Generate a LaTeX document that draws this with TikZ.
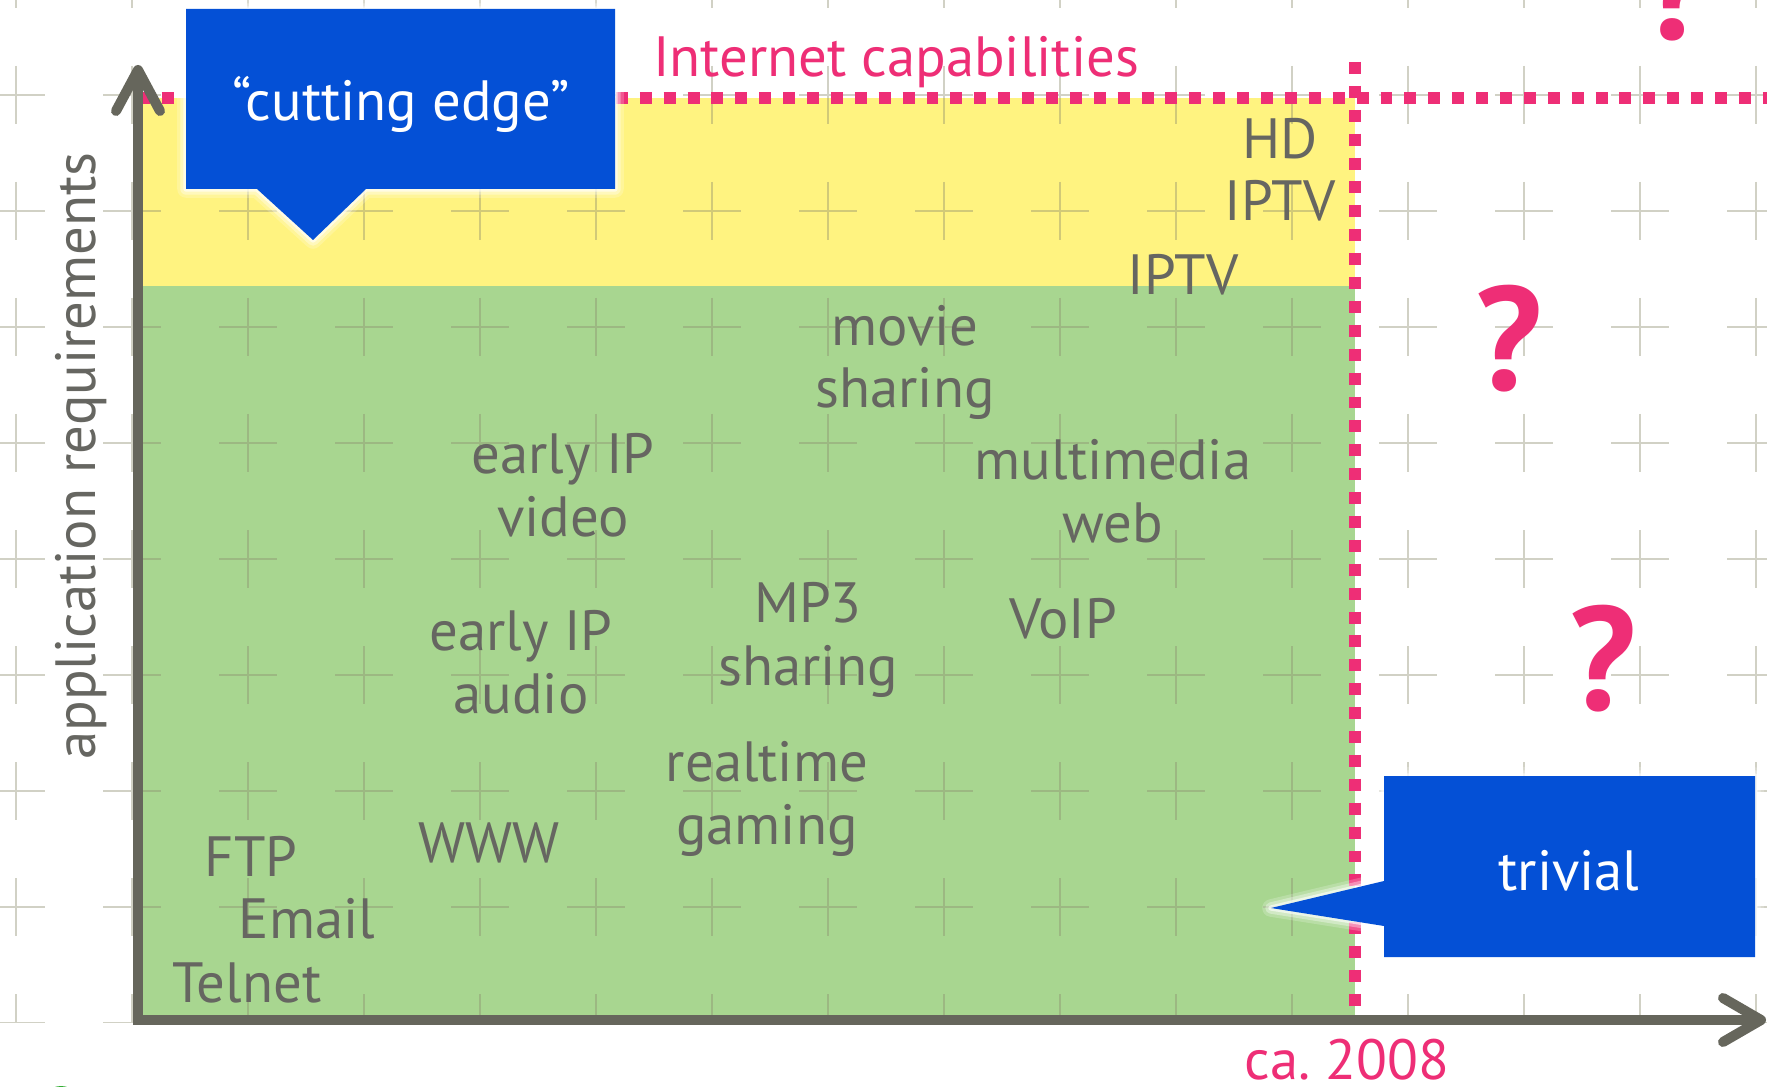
\documentclass[tikz,border=0pt]{standalone}
\usepackage{fontspec}
\setmainfont{PT Sans}
\frenchspacing
\definecolor{txtgray}{HTML}{666661}
\definecolor{axisc}{HTML}{66665C}
\definecolor{pinkc}{HTML}{EE2E76}
\definecolor{calblue}{HTML}{0450D6}
\definecolor{greenc}{HTML}{A8D690}
\definecolor{yellowc}{HTML}{FFF380}
\definecolor{crossc}{HTML}{8C8C6E}
\begin{document}
\begin{tikzpicture}[x=0.02cm,y=-0.02cm,
  lbl/.style={text=txtgray, font=\fontsize{32.3}{35.7}\selectfont, align=center, anchor=base, inner sep=0pt},
  pinklbl/.style={text=pinkc, font=\fontsize{32.3}{35.7}\selectfont, anchor=base, inner sep=0pt},
  wlbl/.style={text=white, font=\fontsize{32.3}{35.7}\selectfont, anchor=base, inner sep=0pt},
  qmark/.style={text=pinkc, font=\fontsize{84}{90}\selectfont\bfseries, anchor=base, inner sep=0pt},
  axisline/.style={draw=axisc, line width=5.7pt, line cap=round, line join=round},
  dotline/.style={draw=pinkc, line width=6.8pt, dash pattern=on 6.8pt off 6.8pt},
  cross/.style={draw=crossc, line width=1.1pt, opacity=0.4},
  glowA/.style={draw=white, line width=10pt, opacity=0.2, line join=round},
  glowB/.style={draw=white, line width=6.5pt, opacity=0.35, line join=round},
  glowC/.style={draw=white, line width=3pt, opacity=0.6, line join=round},
  calfill/.style={fill=calblue}
]
\useasboundingbox (0,0) rectangle (1767,1087);
\fill[white] (0,0) rectangle (1767,1087);

% regions
\fill[yellowc] (138,98) rectangle (1355,286);
\fill[greenc] (138,286) rectangle (1355,1020);

% grid crosses
\begin{scope}
\clip (0,0) rectangle (1767,1022);
\foreach \gx in {16,132,...,1756}
  \foreach \gy in {-21,95,...,1023}
    {\draw[cross] (\gx-29,\gy) -- (\gx+29,\gy) (\gx,\gy-29) -- (\gx,\gy+29);}
\end{scope}

% small green mark bottom left
\fill[green!60!black!80] (61,1093) ellipse [x radius=12, y radius=7];

% dotted capability lines
\coordinate (hdL) at (138,98);
\coordinate (hdR) at (1767,98);
\coordinate (vdT) at (1355,62);
\coordinate (vdB) at (1355,1012);
\draw[dotline] (hdL) -- (hdR);
\draw[dotline] (vdT) -- (vdB);

% axes
\coordinate (ytop) at (138,72);
\coordinate (orig) at (138,1020);
\coordinate (xend) at (1760,1020);
\draw[axisline, line cap=butt, line join=miter] (ytop) -- (orig) -- (xend);
\coordinate (ya1) at (116,111);
\coordinate (ya2) at (138,70);
\coordinate (ya3) at (160,111);
\draw[axisline] (ya1) -- (ya2) -- (ya3);
\coordinate (xa1) at (1723,998);
\coordinate (xa2) at (1761,1020);
\coordinate (xa3) at (1723,1042);
\draw[axisline] (xa1) -- (xa2) -- (xa3);

% axis labels
\node[pinklbl] (inet) at (896,77) {Internet capabilities};
\node[pinklbl] (year) at (1347,1079) {ca. 2008};
\node[text=txtgray, font=\fontsize{32.3}{35.7}\selectfont, rotate=90, inner sep=0pt] (yl) at (81,456) {application requirements};

% application labels (base = last line's baseline)
\node[lbl] (hd) at (1280,221) {HD\\IPTV};
\node[lbl] (iptv) at (1183,295) {IPTV};
\node[lbl] (movie) at (905,408) {movie\\sharing};
\node[lbl] (eipv) at (563,536) {early IP\\video};
\node[lbl] (mmw) at (1113,542) {multimedia\\web};
\node[lbl] (mp3) at (808,685) {MP3\\sharing};
\node[lbl] (voip) at (1063,638) {VoIP};
\node[lbl] (eipa) at (521,713) {early IP\\audio};
\node[lbl] (rtg) at (767,844) {realtime\\gaming};
\node[lbl] (www) at (489,862) {WWW};
\node[lbl] (ftp) at (251,876) {FTP};
\node[lbl] (email) at (307,938) {Email};
\node[lbl] (telnet) at (247,1002) {Telnet};

% question marks
\node[qmark] (q1) at (1509,391) {?};
\node[qmark] (q2) at (1603,710) {?};
\node[qmark] (q3) at (1677,40) {?};

% callout: cutting edge
\coordinate (c1) at (186,9);
\coordinate (c2) at (615,9);
\coordinate (c3) at (615,189);
\coordinate (c4) at (366,189);
\coordinate (c5) at (313,240);
\coordinate (c6) at (257,189);
\coordinate (c7) at (186,189);
\foreach \gs in {glowA,glowB,glowC}
  {\draw[\gs] (c1) -- (c2) -- (c3) -- (c4) -- (c5) -- (c6) -- (c7) -- cycle;}
\fill[calfill] (c1) -- (c2) -- (c3) -- (c4) -- (c5) -- (c6) -- (c7) -- cycle;
\node[wlbl] (cut) at (401,121) {“cutting edge”};

% callout: trivial
\coordinate (t1) at (1384,776);
\coordinate (t2) at (1755,776);
\coordinate (t3) at (1755,957);
\coordinate (t4) at (1384,957);
\coordinate (t5) at (1384,926);
\coordinate (t6) at (1271,908);
\coordinate (t7) at (1384,881);
\foreach \gs in {glowA,glowB,glowC}
  {\draw[\gs] (t1) -- (t2) -- (t3) -- (t4) -- (t5) -- (t6) -- (t7) -- cycle;}
\fill[calfill] (t1) -- (t2) -- (t3) -- (t4) -- (t5) -- (t6) -- (t7) -- cycle;
\node[wlbl] (triv) at (1569,890) {trivial};
\end{tikzpicture}
\end{document}
